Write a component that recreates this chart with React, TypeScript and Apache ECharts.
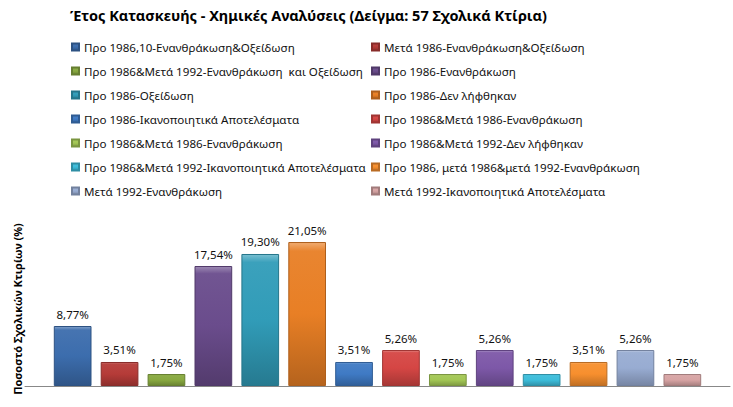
import React, { useEffect, useRef } from "react";
import * as echarts from "echarts";

const seriesNames: string[] = [
  "Προ 1986,10-Ενανθράκωση&Οξείδωση",
  "Μετά 1986-Ενανθράκωση&Οξείδωση",
  "Προ 1986&Μετά 1992-Ενανθράκωση  και Οξείδωση",
  "Προ 1986-Ενανθράκωση",
  "Προ 1986-Οξείδωση",
  "Προ 1986-Δεν λήφθηκαν",
  "Προ 1986-Ικανοποιητικά Αποτελέσματα",
  "Προ 1986&Μετά 1986-Ενανθράκωση",
  "Προ 1986&Μετά 1986-Ενανθράκωση ",
  "Προ 1986&Μετά 1992-Δεν λήφθηκαν",
  "Προ 1986&Μετά 1992-Ικανοποιητικά Αποτελέσματα",
  "Προ 1986, μετά 1986&μετά 1992-Ενανθράκωση",
  "Μετά 1992-Ενανθράκωση",
  "Μετά 1992-Ικανοποιητικά Αποτελέσματα",
];

const seriesValues: number[] = [
  8.77, 3.51, 1.75, 17.54, 19.3, 21.05, 3.51, 5.26, 1.75, 5.26, 1.75, 3.51, 5.26, 1.75,
];

const seriesColors: string[] = [
  "#3C6DAD",
  "#B53B38",
  "#88A940",
  "#6A4C8C",
  "#319CB8",
  "#E87F25",
  "#3F7AC4",
  "#D54644",
  "#A3C755",
  "#7D58A8",
  "#3DBDDA",
  "#F78F2E",
  "#98ACD2",
  "#D7A4A4",
];

const categories: string[] = ["Έτος Κατασκευής"];

const titleText = "Έτος Κατασκευής - Χημικές Αναλύσεις (Δείγμα: 57 Σχολικά Κτίρια)";
const yAxisTitle = "Ποσοστό Σχολικών Κτιρίων (%)";

function shade(hex: string, f: number): string {
  const n = parseInt(hex.slice(1), 16);
  let r = (n >> 16) & 255;
  let g = (n >> 8) & 255;
  let b = n & 255;
  if (f >= 0) {
    r = Math.round(r + (255 - r) * f);
    g = Math.round(g + (255 - g) * f);
    b = Math.round(b + (255 - b) * f);
  } else {
    r = Math.round(r * (1 + f));
    g = Math.round(g * (1 + f));
    b = Math.round(b * (1 + f));
  }
  return "rgb(" + r + "," + g + "," + b + ")";
}

const FONT = "'Noto Sans', 'Open Sans', sans-serif";

export default function App() {
  const ref = useRef<HTMLDivElement>(null);
  useEffect(() => {
    document.body.style.margin = "0";
    if (!ref.current) return;
    const chart = echarts.init(ref.current, null, { renderer: "svg" });

    const series = seriesNames.map((name, i) => {
      const c = seriesColors[i];
      return {
        name,
        type: "bar",
        data: [seriesValues[i]],
        barWidth: 37.7,
        barGap: "24.4%",
        itemStyle: {
          color: new echarts.graphic.LinearGradient(0, 0, 0, 1, [
            { offset: 0, color: shade(c, 0.35) },
            { offset: 0.06, color: shade(c, 0.05) },
            { offset: 0.5, color: c },
            { offset: 1, color: shade(c, -0.22) },
          ]),
          borderColor: shade(c, -0.25),
          borderWidth: 1,
        },
        label: {
          show: true,
          position: "top",
          distance: 6,
          color: "#111",
          fontFamily: FONT,
          fontSize: 11.5,
          formatter: (p: any) => p.value.toFixed(2).replace(".", ",") + "%",
        },
      };
    });

    const leftNames = seriesNames.filter((_, i) => i % 2 === 0);
    const rightNames = seriesNames.filter((_, i) => i % 2 === 1);

    const legendBase = {
      orient: "vertical",
      top: 40,
      padding: 0,
      icon: "rect",
      itemWidth: 7,
      itemHeight: 7,
      itemGap: 10,
      selectedMode: false,
      textStyle: {
        fontFamily: FONT,
        fontSize: 11.6,
        color: "#111",
        lineHeight: 14,
      },
    };

    chart.setOption({
      animation: false,
      backgroundColor: "#fff",
      title: {
        text: titleText,
        left: 70,
        top: 7,
        padding: 0,
        textStyle: {
          fontFamily: FONT,
          fontSize: 14.5,
          fontWeight: "bold",
          color: "#000",
        },
      },
      legend: [
        { ...legendBase, left: 71, data: leftNames },
        { ...legendBase, left: 371, data: rightNames },
      ],
      grid: { left: 25, right: 3, top: 215, bottom: 21 },
      xAxis: {
        type: "category",
        data: categories,
        axisLine: { show: true, lineStyle: { color: "#888", width: 1 } },
        axisTick: { show: false },
        axisLabel: { show: false },
      },
      yAxis: {
        type: "value",
        min: 0,
        max: 25,
        show: false,
        splitLine: { show: false },
      },
      graphic: [
        {
          type: "text",
          x: 17,
          y: 309,
          rotation: Math.PI / 2,
          style: {
            text: yAxisTitle,
            fontFamily: FONT,
            fontSize: 11,
            fontWeight: "bold",
            fill: "#000",
            align: "center",
            verticalAlign: "middle",
          },
        },
      ],
      series,
    });
    return () => chart.dispose();
  }, []);
  return <div ref={ref} style={{ width: 733, height: 407 }} />;
}
